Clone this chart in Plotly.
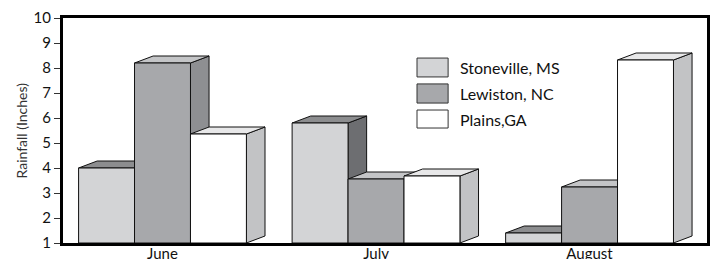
import plotly.graph_objects as go

months = ["June", "July", "August"]
series_names = ["Stoneville, MS", "Lewiston, NC", "Plains,GA"]
stoneville = [4.0, 5.8, 1.4]
lewiston = [8.2, 3.56, 3.24]
plains = [5.36, 3.68, 8.32]
y_ticks = [1, 2, 3, 4, 5, 6, 7, 8, 9, 10]

series_values = [stoneville, lewiston, plains]
front_colors = ["#d3d4d6", "#a7a8ab", "#ffffff"]
top_colors = ["#8c8d8f", "#c4c5c7", "#e8e8e9"]
side_colors = ["#6d6e71", "#8e8f92", "#c2c3c5"]

BASE = 1.0
W = 0.262      # bar width in category units
DX = 0.087     # depth offset in x units
DY = 0.28      # depth offset in y units

fig = go.Figure()

def face(xs, ys, color):
    fig.add_trace(go.Scatter(
        x=xs + [xs[0]], y=ys + [ys[0]], mode="lines", fill="toself",
        fillcolor=color, line=dict(color="#111111", width=1),
        hoverinfo="skip", showlegend=False))

for gi, m in enumerate(months):
    for si in range(len(series_names)):
        v = series_values[si][gi]
        x0 = gi + (si - 1.5) * W
        x1 = x0 + W
        # side face
        face([x1, x1 + DX, x1 + DX, x1], [BASE, BASE + DY, v + DY, v], side_colors[si])
        # top face
        face([x0, x1, x1 + DX, x0 + DX], [v, v, v + DY, v + DY], top_colors[si])
        # front face
        face([x0, x1, x1, x0], [BASE, BASE, v, v], front_colors[si])

# legend (manual)
leg_x0, leg_x1 = 0.5497, 0.598
leg_rows = [(0.738, 0.822), (0.622, 0.707), (0.511, 0.591)]
for si, name in enumerate(series_names):
    y0, y1 = leg_rows[si]
    fig.add_shape(type="rect", xref="paper", yref="paper", x0=leg_x0, x1=leg_x1,
                  y0=y0, y1=y1, fillcolor=front_colors[si],
                  line=dict(color="#333333", width=1))
    fig.add_annotation(xref="paper", yref="paper", x=0.613, y=(y0 + y1) / 2,
                       text=name, showarrow=False, xanchor="left", yanchor="middle",
                       font=dict(size=16, color="#111111"))

# y axis title
fig.add_annotation(xref="paper", yref="paper", x=-0.0637, y=0.5, text="Rainfall (Inches)",
                   textangle=-90, showarrow=False, xanchor="center", yanchor="middle",
                   font=dict(size=14, color="#333333"))

fig.update_layout(
    width=712, height=259,
    margin=dict(l=63, r=5, t=18, b=16),
    paper_bgcolor="white", plot_bgcolor="white",
    font=dict(family="Lato, 'Open Sans', sans-serif", color="#111111", size=14),
    showlegend=False,
)
fig.update_xaxes(
    range=[-0.466, 2.55], tickvals=list(range(len(months))), ticktext=months,
    showgrid=False, zeroline=False, showline=True, linecolor="black", linewidth=3,
    mirror=True, ticks="", tickfont=dict(size=15), automargin=False,
    ticklabelstandoff=-5,
)
fig.update_yaxes(
    range=[1, 10], tickvals=y_ticks, showgrid=False, zeroline=False,
    showline=True, linecolor="black", linewidth=3, mirror=True,
    ticks="outside", ticklen=6, tickcolor="#333333", tickwidth=1,
    tickfont=dict(size=15), automargin=False,
)

fig.write_html("out.html", config={"displayModeBar": False},
               post_script="document.body.style.margin='0';document.body.style.overflow='hidden';")
